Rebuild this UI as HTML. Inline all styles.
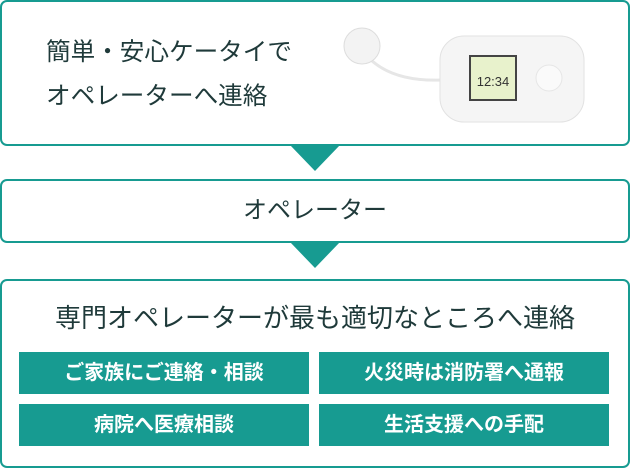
<!DOCTYPE html>
<html><head><meta charset="utf-8"><style>
body{margin:0;width:630px;height:468px;background:#fff;position:relative;overflow:hidden;font-family:"Liberation Sans","Noto Sans CJK JP",sans-serif;color:#1f3a3a}
.box{position:absolute;border:2px solid #179b91;border-radius:7px;box-sizing:border-box;background:#fff}
.tri{position:absolute;width:0;height:0;border-left:25px solid transparent;border-right:25px solid transparent;border-top:26px solid #179b91}
.btn{position:absolute;background:#179b91;color:#fff;font-size:20px;font-weight:bold;text-align:center;line-height:42px;width:290px;height:42px;white-space:nowrap}
</style></head><body>
<div class="box" style="left:0;top:0;width:630px;height:146px"></div>
<div style="position:absolute;left:46px;top:31px;font-size:24.6px;line-height:44px;white-space:nowrap">簡単・安心ケータイで<br>オペレーターへ連絡</div>
<svg style="position:absolute;left:330px;top:0" width="300" height="146">
<path d="M36 55 Q60 82 112 80" stroke="#e6e6e6" stroke-width="3" fill="none"/>
<circle cx="32" cy="46" r="18" fill="#f3f3f3" stroke="#ddd"/>
<rect x="110" y="36" width="144" height="86" rx="24" fill="#f5f5f5" stroke="#e2e2e2"/>
<rect x="140" y="56" width="46" height="44" fill="#e8f2cc" stroke="#444" stroke-width="2"/>
<text x="163" y="86" font-size="13" text-anchor="middle" fill="#333">12:34</text>
<circle cx="219" cy="78" r="13" fill="#fafafa" stroke="#e6e6e6"/>
</svg>
<div class="tri" style="left:290px;top:145px"></div>
<div class="box" style="left:0;top:179px;width:630px;height:64px"></div>
<div style="position:absolute;left:0;width:630px;top:195px;text-align:center;font-size:24px;line-height:32px">オペレーター</div>
<div class="tri" style="left:290px;top:242px"></div>
<div class="box" style="left:0;top:279px;width:630px;height:189px"></div>
<div style="position:absolute;left:0;width:630px;top:301px;text-align:center;font-size:26px;line-height:34px;white-space:nowrap">専門オペレーターが最も適切なところへ連絡</div>
<div class="btn" style="left:19px;top:352px">ご家族にご連絡・相談</div>
<div class="btn" style="left:319px;top:352px">火災時は消防署へ通報</div>
<div class="btn" style="left:19px;top:404px">病院へ医療相談</div>
<div class="btn" style="left:319px;top:404px">生活支援への手配</div>
</body></html>
